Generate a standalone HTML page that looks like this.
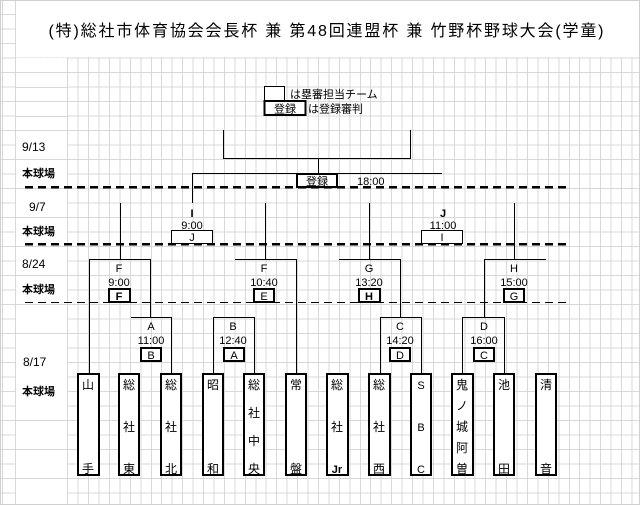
<!DOCTYPE html>
<html><head><meta charset="utf-8"><style>
html,body{margin:0;padding:0;background:#fff}
#w{position:relative;width:640px;height:505px;overflow:hidden;background:#fff}
#g{position:absolute;left:0;top:0;width:640px;height:505px;
background-image:repeating-linear-gradient(to right,transparent 0,transparent 9.45px,#d8d8d8 9.45px,#d8d8d8 10.45px),
repeating-linear-gradient(to bottom,transparent 0,transparent 13.5px,#d8d8d8 13.5px,#d8d8d8 14.5px);
background-position:5.5px 0,0 0.5px}
svg{position:absolute;left:0;top:0}
text{font-family:"Liberation Sans","Noto Sans CJK JP",sans-serif;fill:#000}
</style></head><body><div id="w"><div id="g"></div>
<svg width="640" height="505" viewBox="0 0 640 505" shape-rendering="crispEdges">
<rect x="16" y="0" width="623" height="57" fill="#fff"/>
<rect x="16" y="58" width="51" height="447" fill="#fff"/>
<g stroke="#d8d8d8"><line x1="16" y1="72.5" x2="67" y2="72.5"/><line x1="16" y1="87.5" x2="67" y2="87.5"/><line x1="16" y1="101.5" x2="67" y2="101.5"/><line x1="16" y1="116.5" x2="67" y2="116.5"/><line x1="16" y1="130.5" x2="67" y2="130.5"/><line x1="16" y1="159.5" x2="67" y2="159.5"/><line x1="16" y1="188.5" x2="67" y2="188.5"/><line x1="16" y1="217.5" x2="67" y2="217.5"/><line x1="16" y1="246.5" x2="67" y2="246.5"/><line x1="16" y1="275.5" x2="67" y2="275.5"/><line x1="16" y1="304.5" x2="67" y2="304.5"/><line x1="16" y1="333.5" x2="67" y2="333.5"/><line x1="16" y1="420.5" x2="67" y2="420.5"/><line x1="16" y1="449.5" x2="67" y2="449.5"/><line x1="16" y1="478.5" x2="67" y2="478.5"/><line x1="67.5" y1="58" x2="67.5" y2="505"/><line x1="15.5" y1="0" x2="15.5" y2="505"/></g>
<rect x="0.5" y="0.5" width="639" height="504" fill="none" stroke="#d0d0d0"/>
<text x="326" y="36" font-size="16" text-anchor="middle" textLength="555">(特)総社市体育協会会長杯 兼 第48回連盟杯 兼 竹野杯野球大会(学童)</text>
<!-- legend -->
<rect x="264.5" y="86.5" width="20" height="14" fill="#fff" stroke="#000"/>
<text x="290" y="98" font-size="11">は塁審担当チーム</text>
<rect x="264.5" y="101" width="41" height="14" fill="#fff" stroke="#000" stroke-width="2"/>
<text x="285" y="112.5" font-size="11" text-anchor="middle">登録</text>
<text x="308" y="112.5" font-size="11">は登録審判</text>
<!-- labels -->
<g font-size="12"><text x="22" y="151">9/13</text><text x="29" y="211">9/7</text><text x="22" y="268">8/24</text><text x="23" y="366">8/17</text></g>
<g font-size="11" font-weight="bold"><text x="22" y="177">本球場</text><text x="22" y="235">本球場</text><text x="22" y="293">本球場</text><text x="22" y="395">本球場</text></g>
<!-- dashed -->
<line x1="25" y1="187" x2="568" y2="187" stroke="#000" stroke-width="2.5" stroke-dasharray="8 5"/>
<line x1="25" y1="244" x2="568" y2="244" stroke="#000" stroke-width="2.5" stroke-dasharray="8 5"/>
<line x1="25" y1="302.5" x2="568" y2="302.5" stroke="#000" stroke-width="1" stroke-dasharray="8 5"/>
<g stroke="#000" fill="none">
<!-- final -->
<path d="M223.5 130V158.5H410.5V130M318.5 158V173.5M192 173.5H442M192.5 173V203"/>
<!-- 9/7 -->
<path d="M120.5 203V259M265.5 203V259M369.5 203V259M514.5 203V259"/>
<!-- 8/24 brackets -->
<path d="M89.5 375V259.5H150.5V317M235 259.5H296.5V375M339 259.5H400.5V317M484.5 317V259.5H546"/>
<!-- 8/17 brackets -->
<path d="M131 317.5H171.5V375M213.5 375V317.5H254.5V375M380.5 375V317.5H421.5V375M462.5 375V317.5H504.5V375"/>
</g>
<!-- final box -->
<rect x="297" y="174" width="40" height="13" fill="#fff" stroke="#000" stroke-width="2"/>
<text x="317" y="185" font-size="11" text-anchor="middle">登録</text>
<text x="357" y="185" font-size="11">18:00</text>
<g font-size="11" text-anchor="middle">
<text x="192" y="217" font-weight="bold">I</text><text x="192" y="229">9:00</text>
<text x="443" y="217" font-weight="bold">J</text><text x="443" y="229">11:00</text>
<text x="119" y="272">F</text><text x="119" y="286">9:00</text>
<text x="264" y="272">F</text><text x="264" y="286">10:40</text>
<text x="369" y="272">G</text><text x="369" y="286">13:20</text>
<text x="514" y="272">H</text><text x="514" y="286">15:00</text>
<text x="151" y="330">A</text><text x="151" y="344">11:00</text>
<text x="233" y="330">B</text><text x="233" y="344">12:40</text>
<text x="400" y="330">C</text><text x="400" y="344">14:20</text>
<text x="484" y="330">D</text><text x="484" y="344">16:00</text>
</g>
<g fill="#fff" stroke="#000">
<rect x="171.5" y="230.5" width="41" height="13"/><rect x="421.5" y="230.5" width="41" height="13"/>
<rect x="109" y="289" width="21" height="13" stroke-width="2"/><rect x="254" y="289" width="20" height="13" stroke-width="2"/><rect x="359" y="289" width="21" height="13" stroke-width="2"/><rect x="504" y="289" width="20" height="13" stroke-width="2"/>
<rect x="141" y="348" width="20" height="13" stroke-width="2"/><rect x="224" y="348" width="20" height="13" stroke-width="2"/><rect x="390" y="348" width="20" height="13" stroke-width="2"/><rect x="474" y="348" width="20" height="13" stroke-width="2"/>
</g>
<g font-size="11" text-anchor="middle">
<text x="192" y="241">J</text><text x="442" y="241">I</text>
<text x="119" y="300" font-weight="bold">F</text><text x="264" y="300">E</text><text x="369" y="300" font-weight="bold">H</text><text x="514" y="300">G</text>
<text x="151" y="359">B</text><text x="234" y="359">A</text><text x="400" y="359">D</text><text x="484" y="359">C</text>
</g>
<!-- teams -->
<g fill="#fff" stroke="#000" stroke-width="2">
<rect x="78" y="374" width="21" height="101"/><rect x="119" y="374" width="20" height="101"/><rect x="161" y="374" width="20" height="101"/><rect x="203" y="374" width="20" height="101"/><rect x="244" y="374" width="20" height="101"/><rect x="286" y="374" width="20" height="101"/><rect x="327" y="374" width="21" height="101"/><rect x="369" y="374" width="21" height="101"/><rect x="411" y="374" width="20" height="101"/><rect x="452" y="374" width="21" height="101"/><rect x="494" y="374" width="20" height="101"/><rect x="536" y="374" width="20" height="101"/>
</g>
<g font-size="12" text-anchor="middle">
<text x="88" y="389">山</text><text x="88" y="473">手</text>
<text x="129" y="389">総</text><text x="129" y="431">社</text><text x="129" y="473">東</text>
<text x="171" y="389">総</text><text x="171" y="431">社</text><text x="171" y="473">北</text>
<text x="213" y="389">昭</text><text x="213" y="473">和</text>
<text x="254" y="389">総</text><text x="254" y="417">社</text><text x="254" y="445">中</text><text x="254" y="473">央</text>
<text x="296" y="389">常</text><text x="296" y="473">盤</text>
<text x="337" y="389">総</text><text x="337" y="431">社</text><text x="337" y="473" font-weight="bold" font-size="11">Jr</text>
<text x="379" y="389">総</text><text x="379" y="431">社</text><text x="379" y="473">西</text>
<text x="421" y="389" font-size="11">S</text><text x="421" y="431" font-size="11">B</text><text x="421" y="473" font-size="11">C</text>
<text x="462" y="389">鬼</text><text x="462" y="410">ノ</text><text x="462" y="431">城</text><text x="462" y="452">阿</text><text x="462" y="473">曽</text>
<text x="504" y="389">池</text><text x="504" y="473">田</text>
<text x="546" y="389">清</text><text x="546" y="473">音</text>
</g>
</svg></div></body></html>
